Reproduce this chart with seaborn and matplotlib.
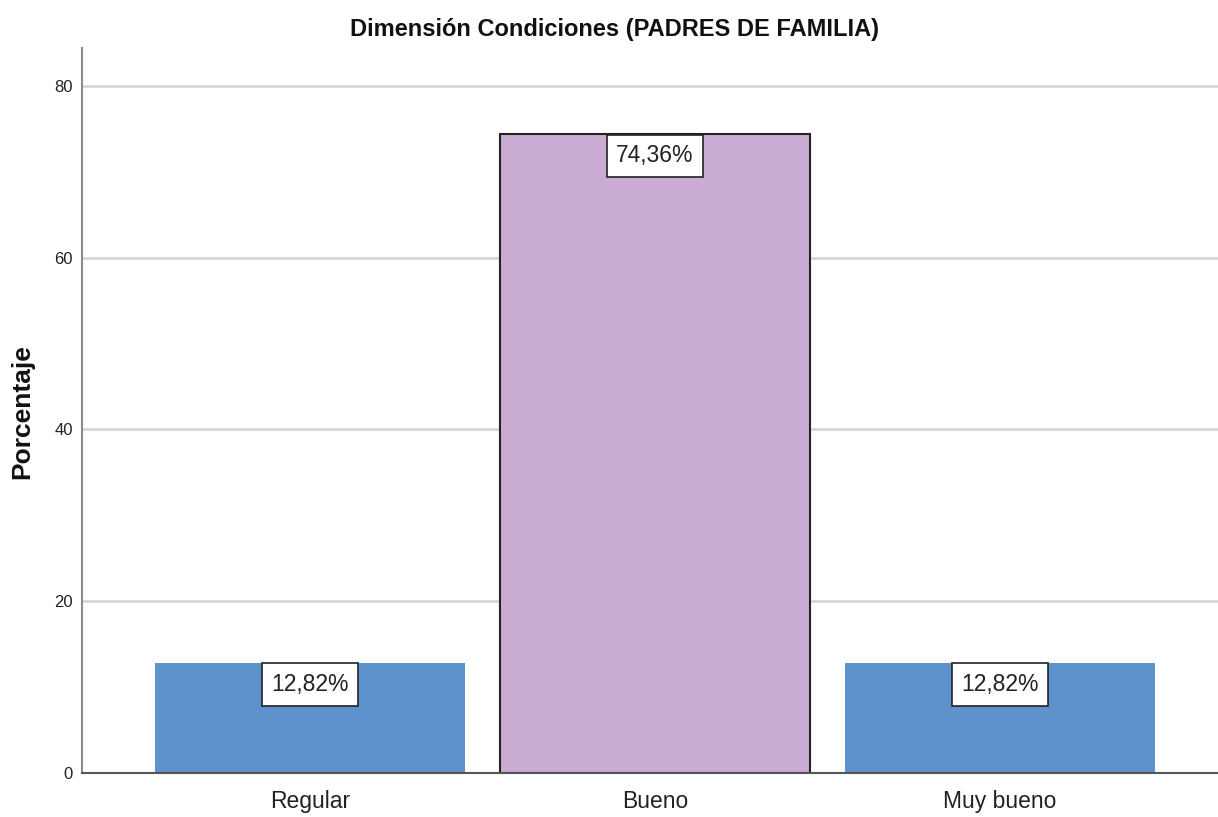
import numpy as np
import pandas as pd
import matplotlib
matplotlib.use('Agg')
import matplotlib.pyplot as plt
import seaborn as sns

# Data
categories = ['Regular', 'Bueno', 'Muy bueno']
percentages = [12.82, 74.36, 12.82]
labels = ['12,82%', '74,36%', '12,82%']
bar_colors = ['#5E92CC', '#CBACD3', '#5E92CC']
y_ticks = [0, 20, 40, 60, 80]

sns.set_theme(style='white')
plt.rcParams['font.family'] = ['Liberation Sans', 'DejaVu Sans']

df = pd.DataFrame({'Categoria': categories, 'Porcentaje': percentages})

fig = plt.figure(figsize=(12.18, 8.17), dpi=100)
ax = fig.add_axes([0.0673, 0.0539, 0.9327, 0.8873])

sns.barplot(data=df, x='Categoria', y='Porcentaje', hue='Categoria',
            palette=dict(zip(categories, bar_colors)), legend=False,
            width=0.9, saturation=1, ax=ax, zorder=3)

# Only the middle bar has a black outline
for patch, cat in zip(ax.patches, categories):
    if cat == 'Bueno':
        patch.set_edgecolor('#222222')
        patch.set_linewidth(1.5)
    else:
        patch.set_edgecolor(patch.get_facecolor())
        patch.set_linewidth(0)

# Value labels in white boxes hanging from the bar tops
for i, (val, txt) in enumerate(zip(percentages, labels)):
    ax.annotate(txt, xy=(i, val), xytext=(0, -15.6), textcoords='offset points',
                ha='center', va='center', fontsize=16.5, color='#222222', zorder=5,
                bbox=dict(boxstyle='square,pad=0.42', facecolor='white',
                          edgecolor='#222222', linewidth=1.2))

ax.set_xlim(-0.661, 2.632)
ax.set_ylim(0, 84.4)
ax.set_yticks(y_ticks)
ax.yaxis.grid(True, color='#D6D6D6', linewidth=2, zorder=0)
ax.set_axisbelow(True)
ax.tick_params(axis='y', length=0, pad=6.5, labelsize=12, labelcolor='#222222')
ax.tick_params(axis='x', length=0, pad=12.5, labelsize=16.5, labelcolor='#222222')

for side in ['top', 'right']:
    ax.spines[side].set_visible(False)
ax.spines['left'].set_color('#8C8C8C')
ax.spines['left'].set_linewidth(1.5)
ax.spines['bottom'].set_color('#555555')
ax.spines['bottom'].set_linewidth(1.5)
ax.spines['bottom'].set_zorder(6)

ax.set_xlabel('')
ax.set_ylabel('')
fig.text(22 / 1218, 0.496, 'Porcentaje', rotation=90, ha='center', va='center',
         fontsize=19, fontweight='bold', color='#111111')

fig.text(614 / 1218, 0.964, 'Dimensión Condiciones (PADRES DE FAMILIA)',
         ha='center', va='center', fontsize=17, fontweight='bold', color='#111111')

fig.savefig('out.png', dpi=100)
